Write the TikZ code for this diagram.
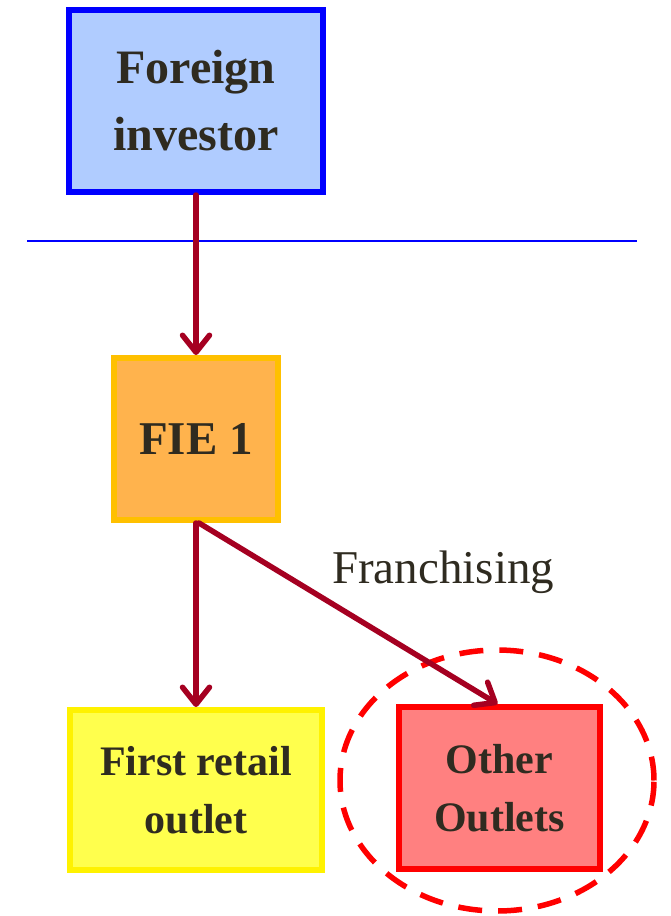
\documentclass[tikz,border=0pt]{standalone}
\usepackage{fontspec}
\setmainfont{Liberation Serif}
\usetikzlibrary{arrows.meta, shapes.geometric}
\definecolor{inkdark}{RGB}{47,43,32}
\definecolor{flowred}{RGB}{165,0,33}
\definecolor{investfill}{RGB}{176,204,255}
\definecolor{fiefill}{RGB}{255,179,77}
\definecolor{fieedge}{RGB}{255,192,0}
\definecolor{retailfill}{RGB}{255,255,77}
\definecolor{otherfill}{RGB}{255,128,128}
\tikzset{
  box/.style={rectangle, inner sep=0pt, align=center, text=inkdark,
    line width=6pt, font=\bfseries\fontsize{42}{58}\selectfont},
  flow/.style={draw=flowred, line width=5.5pt, line cap=round, line join=round,
    -{Straight Barb[length=17pt, width=27pt, line cap=round, line join=round]}},
}
\begin{document}
\begin{tikzpicture}[x=1pt, y=-1pt]
\useasboundingbox (0,0) rectangle (670,916);

% dashed ring round the other outlets
\node[ellipse, draw=red, line width=5.5pt, dash pattern=on 24pt off 16pt,
      inner sep=0pt, outer sep=0pt, minimum width=314pt, minimum height=261pt]
  (ring) at (497,780.5) {};

% boxes
\node[box, draw=blue, fill=investfill,
      minimum width=254pt, minimum height=182pt,
      font=\bfseries\fontsize{48}{67}\selectfont]
  (investor) at (196,101) {Foreign\\investor};
\node[box, draw=fieedge, fill=fiefill,
      minimum width=164pt, minimum height=162pt,
      font=\bfseries\fontsize{47}{60}\selectfont]
  (fie) at (196,439) {FIE 1};
\node[box, draw=yellow, fill=retailfill,
      minimum width=252pt, minimum height=160pt]
  (retail) at (196,790) {First retail\\outlet};
\node[box, draw=red, fill=otherfill,
      minimum width=201pt, minimum height=162pt]
  (other) at (499.5,788) {Other\\Outlets};

% border line
\coordinate (lineL) at (27,241);
\coordinate (lineR) at (637,241);
\draw[blue, line width=1.6pt] (lineL) -- (lineR);

% flows
\draw[flow] (investor.south) -- (fie.north);
\draw[flow] (fie.south) -- (fie.south |- retail.north);
\draw[flow] ([xshift=3pt]fie.south) -- ([xshift=-2pt]other.north);

\node[anchor=base west, inner sep=0pt, text=inkdark,
      font=\fontsize{47}{56}\selectfont] (franch) at (332,583) {Franchising};
\end{tikzpicture}
\end{document}
